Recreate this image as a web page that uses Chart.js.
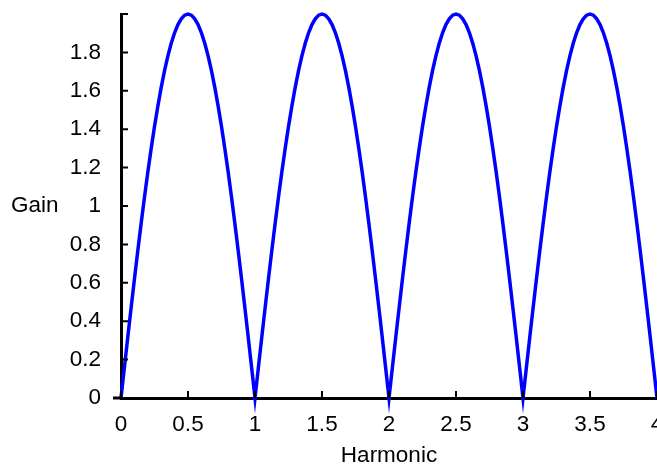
<!DOCTYPE html>
<html>
<head>
<meta charset="utf-8">
<script src="https://cdn.jsdelivr.net/npm/chart.js@4.4.1/dist/chart.umd.min.js"></script>
<style>
  html, body { margin: 0; padding: 0; background: #fff; overflow: hidden; }
  #wrap { position: relative; width: 700px; height: 466px; }
</style>
</head>
<body>
<div id="wrap"><canvas id="chart"></canvas></div>
<script>
// Gain vs harmonic (step 0.025).
const harmonic = [
  0.000, 0.025, 0.050, 0.075, 0.100, 0.125, 0.150, 0.175, 0.200, 0.225,
  0.250, 0.275, 0.300, 0.325, 0.350, 0.375, 0.400, 0.425, 0.450, 0.475,
  0.500, 0.525, 0.550, 0.575, 0.600, 0.625, 0.650, 0.675, 0.700, 0.725,
  0.750, 0.775, 0.800, 0.825, 0.850, 0.875, 0.900, 0.925, 0.950, 0.975,
  1.000, 1.025, 1.050, 1.075, 1.100, 1.125, 1.150, 1.175, 1.200, 1.225,
  1.250, 1.275, 1.300, 1.325, 1.350, 1.375, 1.400, 1.425, 1.450, 1.475,
  1.500, 1.525, 1.550, 1.575, 1.600, 1.625, 1.650, 1.675, 1.700, 1.725,
  1.750, 1.775, 1.800, 1.825, 1.850, 1.875, 1.900, 1.925, 1.950, 1.975,
  2.000, 2.025, 2.050, 2.075, 2.100, 2.125, 2.150, 2.175, 2.200, 2.225,
  2.250, 2.275, 2.300, 2.325, 2.350, 2.375, 2.400, 2.425, 2.450, 2.475,
  2.500, 2.525, 2.550, 2.575, 2.600, 2.625, 2.650, 2.675, 2.700, 2.725,
  2.750, 2.775, 2.800, 2.825, 2.850, 2.875, 2.900, 2.925, 2.950, 2.975,
  3.000, 3.025, 3.050, 3.075, 3.100, 3.125, 3.150, 3.175, 3.200, 3.225,
  3.250, 3.275, 3.300, 3.325, 3.350, 3.375, 3.400, 3.425, 3.450, 3.475,
  3.500, 3.525, 3.550, 3.575, 3.600, 3.625, 3.650, 3.675, 3.700, 3.725,
  3.750, 3.775, 3.800, 3.825, 3.850, 3.875, 3.900, 3.925, 3.950, 3.975,
  4.000,
];
const gain = [
  0.000, 0.157, 0.313, 0.467, 0.618, 0.765, 0.908, 1.045, 1.176, 1.298,
  1.414, 1.520, 1.618, 1.705, 1.782, 1.848, 1.902, 1.945, 1.975, 1.994,
  2.000, 1.994, 1.975, 1.945, 1.902, 1.848, 1.782, 1.705, 1.618, 1.520,
  1.414, 1.298, 1.176, 1.045, 0.908, 0.765, 0.618, 0.467, 0.313, 0.157,
  0.000, 0.157, 0.313, 0.467, 0.618, 0.765, 0.908, 1.045, 1.176, 1.298,
  1.414, 1.520, 1.618, 1.705, 1.782, 1.848, 1.902, 1.945, 1.975, 1.994,
  2.000, 1.994, 1.975, 1.945, 1.902, 1.848, 1.782, 1.705, 1.618, 1.520,
  1.414, 1.298, 1.176, 1.045, 0.908, 0.765, 0.618, 0.467, 0.313, 0.157,
  0.000, 0.157, 0.313, 0.467, 0.618, 0.765, 0.908, 1.045, 1.176, 1.298,
  1.414, 1.520, 1.618, 1.705, 1.782, 1.848, 1.902, 1.945, 1.975, 1.994,
  2.000, 1.994, 1.975, 1.945, 1.902, 1.848, 1.782, 1.705, 1.618, 1.520,
  1.414, 1.298, 1.176, 1.045, 0.908, 0.765, 0.618, 0.467, 0.313, 0.157,
  0.000, 0.157, 0.313, 0.467, 0.618, 0.765, 0.908, 1.045, 1.176, 1.298,
  1.414, 1.520, 1.618, 1.705, 1.782, 1.848, 1.902, 1.945, 1.975, 1.994,
  2.000, 1.994, 1.975, 1.945, 1.902, 1.848, 1.782, 1.705, 1.618, 1.520,
  1.414, 1.298, 1.176, 1.045, 0.908, 0.765, 0.618, 0.467, 0.313, 0.157,
  0.000,
];

const INK = "#000";
const FONT = { family: '"Liberation Sans", Arial, sans-serif', size: 22.5 };
const TICK_LEN = 7;
const fmt = v => String(Math.round(v * 10) / 10);

// Chart.js has no inward ticks, so draw them from the scales after render,
// plus the little stub of x axis left of the origin and the horizontal "Gain".
const axisExtras = {
  id: "axisExtras",
  afterDraw(chart) {
    const { ctx, chartArea: a, scales: { x, y } } = chart;
    ctx.save();
    ctx.strokeStyle = INK;
    ctx.lineWidth = 2;
    ctx.beginPath();
    x.ticks.forEach(t => {
      const px = x.getPixelForValue(t.value);
      ctx.moveTo(px, a.bottom);
      ctx.lineTo(px, a.bottom - TICK_LEN);
    });
    y.ticks.forEach(t => {
      const py = y.getPixelForValue(t.value);
      ctx.moveTo(a.left, py);
      ctx.lineTo(a.left + TICK_LEN, py);
    });
    ctx.stroke();
    ctx.lineWidth = 3;
    ctx.beginPath();
    ctx.moveTo(a.left - 8, a.bottom);
    ctx.lineTo(a.left, a.bottom);
    ctx.stroke();
    ctx.fillStyle = INK;
    ctx.font = `${FONT.size}px ${FONT.family}`;
    ctx.textAlign = "left";
    ctx.textBaseline = "middle";
    ctx.fillText("Gain", 11, y.getPixelForValue(1));
    ctx.restore();
  },
};

new Chart(document.getElementById("chart"), {
  type: "line",
  data: {
    datasets: [{
      data: harmonic.map((h, i) => ({ x: h, y: gain[i] })),
      borderColor: "#0000ff",
      borderWidth: 3.5,
      borderJoinStyle: "miter",
      tension: 0,
      pointRadius: 0,
      fill: false,
      clip: false,
    }],
  },
  options: {
    responsive: true,
    maintainAspectRatio: false,
    animation: false,
    layout: { padding: { left: 0, right: 43, top: 14, bottom: 0 } },
    plugins: { legend: { display: false }, tooltip: { enabled: false } },
    scales: {
      x: {
        type: "linear",
        min: 0,
        max: 4,
        ticks: { stepSize: 0.5, color: INK, font: FONT, padding: 13, maxRotation: 0, callback: fmt },
        grid: { display: true, drawOnChartArea: false, drawTicks: false },
        border: { display: true, color: INK, width: 3 },
        title: { display: true, text: "Harmonic", color: INK, font: FONT, padding: { top: 0, bottom: -3 } },
        afterFit(scale) { scale.height = 68; },
      },
      y: {
        type: "linear",
        min: 0,
        max: 2,
        ticks: { stepSize: 0.2, color: INK, font: FONT, padding: 20, callback: v => (v >= 2 ? "" : fmt(v)) },
        grid: { display: true, drawOnChartArea: false, drawTicks: false },
        border: { display: true, color: INK, width: 3 },
        afterFit(scale) {
          scale.width = 121;
          scale.paddingTop = 0;
          scale.paddingBottom = 0;
        },
      },
    },
  },
  plugins: [axisExtras],
});
</script>
</body>
</html>
